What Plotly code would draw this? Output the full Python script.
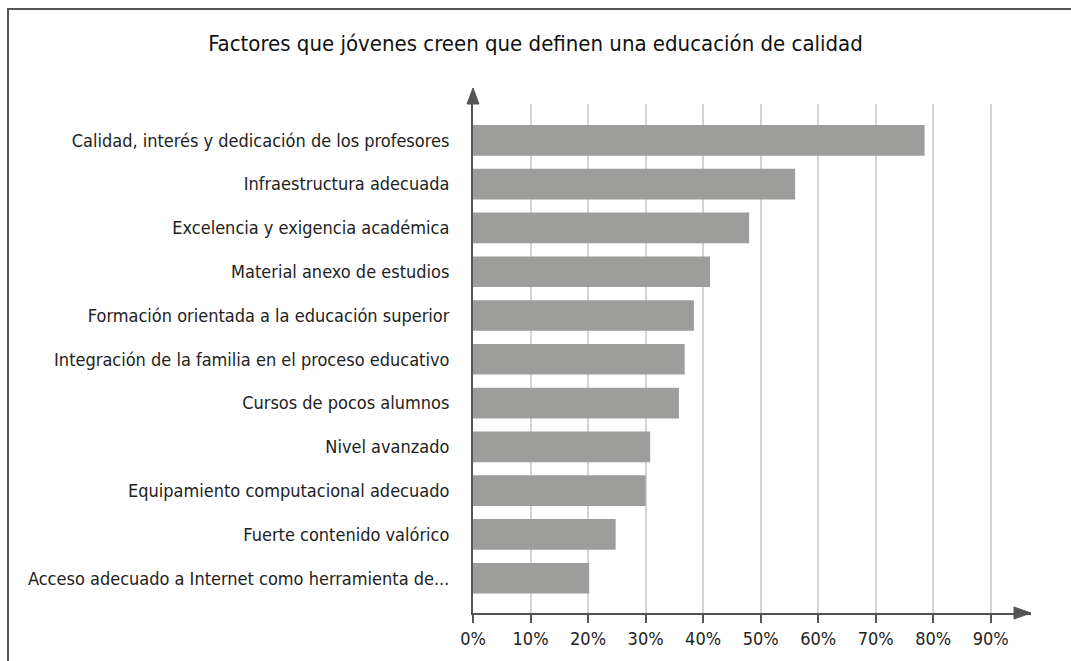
import plotly.graph_objects as go

# Survey results: share of young people naming each factor (top to bottom)
factores = [
    "Calidad, interés y dedicación de los profesores",
    "Infraestructura adecuada",
    "Excelencia y exigencia académica",
    "Material anexo de estudios",
    "Formación orientada a la educación superior",
    "Integración de la familia en el proceso educativo",
    "Cursos de pocos alumnos",
    "Nivel avanzado",
    "Equipamiento computacional adecuado",
    "Fuerte contenido valórico",
    "Acceso adecuado a Internet como herramienta de...",
]
porcentajes = [78.5, 56.0, 48.0, 41.2, 38.4, 36.8, 35.8, 30.8, 30.0, 24.8, 20.2]
tick_vals = [0, 10, 20, 30, 40, 50, 60, 70, 80, 90]
tick_text = ["0%", "10%", "20%", "30%", "40%", "50%", "60%", "70%", "80%", "90%"]

FONT = "Liberation Sans Narrow, DejaVu Sans Condensed, Arial Narrow, sans-serif"
AXIS = "#555555"

fig = go.Figure(
    go.Bar(
        x=porcentajes,
        y=factores,
        orientation="h",
        width=0.7,
        marker=dict(color="#9d9d9b", line=dict(width=0)),
        hoverinfo="skip",
    )
)

W, H = 1071, 661
L, R, T, B = 473, 40, 104, 48

fig.update_layout(
    width=W,
    height=H,
    margin=dict(l=L, r=R, t=T, b=B, pad=0),
    paper_bgcolor="white",
    plot_bgcolor="white",
    showlegend=False,
    font=dict(family=FONT, size=18, color="#222222"),
    title=dict(
        text="Factores que jóvenes creen que definen una educación de calidad",
        x=0.5,
        xanchor="center",
        y=1 - 43 / H,
        yanchor="middle",
        font=dict(family=FONT, size=22, color="#111111"),
    ),
    xaxis=dict(
        range=[0, 97],
        tickvals=tick_vals,
        ticktext=tick_text,
        showgrid=True,
        gridcolor="#d4d4d4",
        gridwidth=2,
        zeroline=False,
        showline=True,
        linecolor=AXIS,
        linewidth=2,
        ticks="outside",
        ticklen=8,
        tickwidth=1.5,
        tickcolor=AXIS,
        tickfont=dict(family=FONT, size=18, color="#222222"),
        fixedrange=True,
    ),
    yaxis=dict(
        type="category",
        categoryorder="array",
        categoryarray=factores,
        range=[10.794, -0.83],
        showgrid=False,
        zeroline=False,
        showline=True,
        linecolor=AXIS,
        linewidth=2,
        ticks="",
        ticklabelstandoff=18,
        tickfont=dict(family=FONT, size=18, color="#222222"),
        fixedrange=True,
    ),
)

# Arrow heads at the ends of both axes (paper-anchored so they are not clipped)
fig.add_shape(
    type="path",
    xref="paper", yref="paper",
    xsizemode="pixel", ysizemode="pixel",
    xanchor=1, yanchor=0,
    path="M -17,6 L 0,0 L -17,-6 Z",
    fillcolor=AXIS, line=dict(color=AXIS, width=1),
    layer="above",
)
fig.add_shape(
    type="path",
    xref="paper", yref="paper",
    xsizemode="pixel", ysizemode="pixel",
    xanchor=0, yanchor=1,
    path="M -6,0 L 0,16 L 6,0 Z",
    fillcolor=AXIS, line=dict(color=AXIS, width=1),
    layer="above",
)

# Outer frame (top and left edges visible)
pw, ph = W - L - R, H - T - B
fig.add_shape(
    type="rect",
    xref="paper", yref="paper",
    x0=(8 - L) / pw, x1=(W + 10 - L) / pw,
    y0=(H - B - (H + 10)) / ph, y1=(H - B - 9) / ph,
    line=dict(color=AXIS, width=2),
    fillcolor="rgba(0,0,0,0)",
    layer="above",
)

fig.write_html("out.html")
